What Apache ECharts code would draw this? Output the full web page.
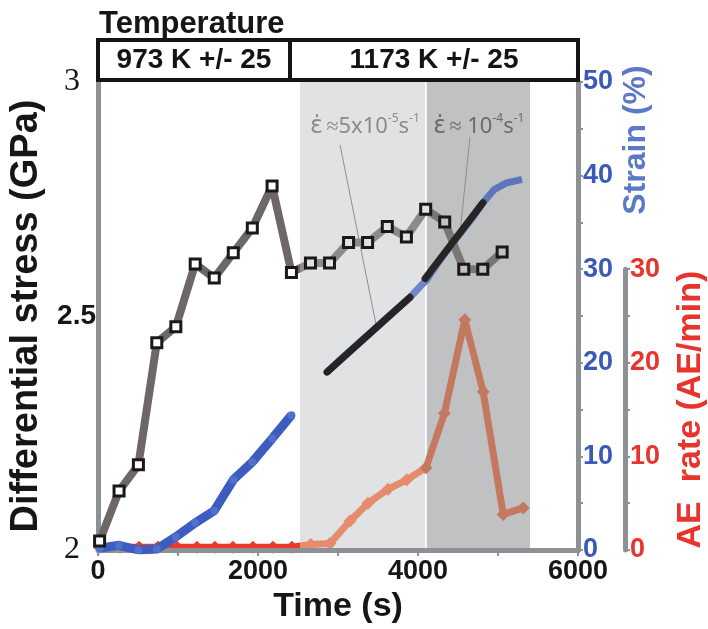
<!DOCTYPE html>
<html><head><meta charset="utf-8">
<script src="https://cdn.jsdelivr.net/npm/echarts@6/dist/echarts.min.js"></script>
<style>html,body{margin:0;padding:0;background:#fff}#c{width:708px;height:629px}</style>
</head><body><div id="c"></div>
<script>
// ---------------- data ----------------
const stressTime = [20,263,505,735,973,1215,1453,1691,1929,2176,2418,2656,2894,3132,3370,3616,3855,4096,4334,4572,4810,5052];
const stressGPa  = [2.019,2.126,2.182,2.443,2.477,2.611,2.581,2.635,2.688,2.778,2.593,2.613,2.613,2.657,2.657,2.691,2.669,2.728,2.701,2.600,2.600,2.637];

const strainTime1 = [25,263,505,735,973,1215,1453,1691,1929,2176,2418];
const strainPct1  = [0.2,0.5,0.0,0.1,1.4,2.9,4.2,7.5,9.4,11.9,14.4];
const strainTime2 = [2862,3100,3400,3700,3900,4100,4300,4500,4700,4812,4950,5100,5300];
const strainPct2  = [19.0,20.9,23.2,25.5,27.0,28.8,31.3,33.5,35.7,37.1,38.5,39.2,39.6];

const fitTime1 = [2862,3900];  const fitPct1 = [19.0,27.0];
const fitTime2 = [4088,4812];  const fitPct2 = [29.0,37.1];

const aeTime = [20,275,513,750,988,1237,1462,1687,1937,2187,2425,2660,2900,3150,3375,3625,3860,4100,4330,4585,4815,5065,5315];
const aeRate = [0.3,0.3,0.3,0.3,0.3,0.3,0.3,0.3,0.3,0.3,0.3,0.6,0.7,3.1,5.0,6.5,7.5,8.8,14.6,24.6,16.9,3.8,4.5];

const tempRanges = [[0,2400],[2400,6000]];
const tempLabels = ['973 K +/- 25','1173 K +/- 25'];

const rateWindows = [[2525,4090],[4110,5400]];
const leaderFrom = [[3025,43.3],[4650,44.1]];
const leaderTo   = [[3480,23.9],[4525,33.9]];
const annoAt     = [[3337,45.2],[4760,45.2]];
const annoText   = ['{e|\u03B5\u0307} {t|\u22485x10}{u|-5}{t|s}{u|-1}', '{e|\u03B5\u0307} {t|\u2248 10}{u|-4}{t|s}{u|-1}'];

const xTicks = [0,2000,4000,6000];

// ---------------- chart ----------------
const AX = '#8d9196';
const FF = 'Liberation Sans';
const windowColors = ['#e1e2e4','#c0c1c3'];
const annoColors = ['#8b8b8b','#6a6a6a'];
const bounds = [2525,4100];
function pieces(cols){return [{lt:bounds[0],color:cols[0]},{gte:bounds[0],lt:bounds[1],color:cols[1]},{gte:bounds[1],color:cols[2]}];}
function pairs(xs,ys){return xs.map((x,i)=>[x,ys[i]]);}

const chart = echarts.init(document.getElementById('c'), null, {renderer:'canvas'});
chart.setOption({
  animation:false,
  backgroundColor:'#fff',
  textStyle:{fontFamily:FF},
  grid:[
    {left:98,right:130,top:82,bottom:79,outerBoundsMode:'none',containLabel:false},
    {left:98,right:130,top:269.2,bottom:79,outerBoundsMode:'none',containLabel:false},
    {left:98,right:130,top:40,height:40,outerBoundsMode:'none',containLabel:false}
  ],
  xAxis:[
    {gridIndex:0,type:'value',min:0,max:6000,interval:1000,z:3,
     axisLine:{onZero:false,lineStyle:{color:AX,width:5}},
     axisTick:{show:true,length:6,lineStyle:{color:AX,width:2}},
     splitLine:{show:false},
     axisLabel:{margin:8,color:'#161616',fontSize:27,fontWeight:'bold',fontFamily:FF,
       formatter:v=>xTicks.indexOf(v)>=0?String(v):''},
     name:'Time (s)',nameLocation:'middle',nameGap:35,
     nameTextStyle:{fontSize:34,fontWeight:'bold',color:'#161616',fontFamily:FF}},
    {gridIndex:1,type:'value',min:0,max:6000,show:false},
    {gridIndex:2,type:'value',min:0,max:6000,show:false}
  ],
  yAxis:[
    {gridIndex:0,type:'value',min:2,max:3,interval:0.5,position:'left',
     axisLine:{show:true,onZero:false,lineStyle:{color:AX,width:5}},
     axisTick:{show:false},minorTick:{show:false},splitLine:{show:false},
     axisLabel:{margin:2,formatter:v=>(v===2.5?'{b|2.5}':'{s|'+v+'}'),
       rich:{s:{fontFamily:'Liberation Serif',fontSize:32,color:'#161616',padding:[0,16,0,0]},
             b:{fontFamily:FF,fontSize:28,fontWeight:'bold',color:'#161616'}}},
     name:'Differential stress (GPa)',nameLocation:'middle',nameRotate:90,nameGap:52,
     nameTextStyle:{fontSize:38,fontWeight:'bold',color:'#161616',fontFamily:FF}},
    {gridIndex:0,type:'value',min:0,max:50,interval:5,position:'right',
     axisLine:{show:true,onZero:false,lineStyle:{color:AX,width:5}},
     axisTick:{show:true,length:5,lineStyle:{color:AX,width:2}},
     splitLine:{show:false},
     axisLabel:{margin:5,color:'#3a59b8',fontSize:27,fontWeight:'bold',fontFamily:FF,
       formatter:v=>(v%10===0?String(v):'')}},
    {gridIndex:1,type:'value',min:0,max:30,interval:5,position:'right',offset:47,
     axisLine:{show:true,onZero:false,lineStyle:{color:AX,width:5}},
     axisTick:{show:true,length:5,lineStyle:{color:AX,width:2}},
     splitLine:{show:false},
     axisLabel:{margin:5,color:'#e8342c',fontSize:27,fontWeight:'bold',fontFamily:FF,
       formatter:v=>(v%10===0?String(v):'')},
     name:'AE  rate (AE/min)',nameLocation:'middle',nameRotate:90,nameGap:49,
     nameTextStyle:{fontSize:34,fontWeight:'bold',color:'#e8342c',fontFamily:FF}},
    {gridIndex:2,type:'value',min:0,max:1,show:false}
  ],
  visualMap:[
    {type:'piecewise',show:false,dimension:0,seriesIndex:1,pieces:pieces(['#ea3a2a','#e68b6d','#c47860'])},
    {type:'piecewise',show:false,dimension:0,seriesIndex:3,pieces:pieces(['#6f86cb','#6f86cb','#5f75bb'])},
    {type:'piecewise',show:false,dimension:0,seriesIndex:6,pieces:pieces(['#6d6767','#8e8a8a','#7a7676'])},
    {type:'piecewise',show:false,dimension:0,seriesIndex:7,pieces:pieces(['#ffffff','#e1e2e4','#c0c1c3'])}
  ],
  graphic:[
    {type:'text',left:99,top:9,style:{text:'Temperature',fontSize:31,fontWeight:'bold',fontFamily:FF,fill:'#161616'}},
    {type:'text',x:636,y:140,rotation:Math.PI/2,style:{text:'Strain (%)',fontSize:32,fontWeight:'bold',fontFamily:FF,fill:'#5b79c7',align:'center',verticalAlign:'middle'}}
  ],
  series:[
    {type:'line',xAxisIndex:0,yAxisIndex:0,data:[],z:1,silent:true,
     markArea:{silent:true,z:1,data:rateWindows.map((r,i)=>[{xAxis:r[0],itemStyle:{color:windowColors[i]}},{xAxis:r[1]}])}},
    {type:'line',xAxisIndex:1,yAxisIndex:2,z:2,data:pairs(aeTime,aeRate),
     symbol:'diamond',symbolSize:13,showSymbol:true,lineStyle:{width:7},silent:true},
    {type:'line',xAxisIndex:0,yAxisIndex:1,z:4,data:pairs(strainTime1,strainPct1),
     symbol:'circle',symbolSize:8,showSymbol:true,lineStyle:{width:9,color:'#3c5cc0'},itemStyle:{color:'#5070cc'},silent:true},
    {type:'line',xAxisIndex:0,yAxisIndex:1,z:4,data:pairs(strainTime2,strainPct2),
     symbol:'none',lineStyle:{width:7},silent:true},
    {type:'line',xAxisIndex:0,yAxisIndex:1,z:6,data:pairs(fitTime1,fitPct1),symbol:'none',
     lineStyle:{width:7,color:'#262424',cap:'round'},silent:true,
     markLine:{silent:true,symbol:['none','none'],lineStyle:{color:'#8f8f8f',width:1,type:'solid'},label:{show:false},
       data:leaderFrom.map((p,i)=>[{coord:p},{coord:leaderTo[i]}])},
     markPoint:{silent:true,symbol:'circle',symbolSize:1,itemStyle:{color:'rgba(0,0,0,0)'},
       data:annoAt.map((p,i)=>({coord:p,label:{show:true,position:'inside',formatter:annoText[i],
         rich:{e:{fontSize:24,fontFamily:'DejaVu Sans',color:annoColors[i],lineHeight:28},
               t:{fontSize:22,fontFamily:'Noto Sans',color:annoColors[i],lineHeight:28},
               u:{fontSize:12,fontFamily:'Noto Sans',color:annoColors[i],lineHeight:14,verticalAlign:'top'}}}}))}},
    {type:'line',xAxisIndex:0,yAxisIndex:1,z:6,data:pairs(fitTime2,fitPct2),symbol:'none',
     lineStyle:{width:7,color:'#262424',cap:'round'},silent:true},
    {type:'line',xAxisIndex:0,yAxisIndex:0,z:5,data:pairs(stressTime,stressGPa),symbol:'none',
     lineStyle:{width:8},silent:true},
    {type:'scatter',xAxisIndex:0,yAxisIndex:0,z:7,data:pairs(stressTime,stressGPa),symbol:'rect',symbolSize:10,
     itemStyle:{borderColor:'#1b1818',borderWidth:3,opacity:1},silent:true},
    {type:'line',xAxisIndex:2,yAxisIndex:3,data:[],silent:true,
     markArea:{silent:true,itemStyle:{color:'#fff',borderColor:'#141414',borderWidth:4},
       label:{show:true,position:'inside',fontSize:28,fontWeight:'bold',color:'#141414',fontFamily:FF},
       data:tempRanges.map((r,i)=>[{xAxis:r[0],name:tempLabels[i]},{xAxis:r[1]}])}}
  ]
});
</script></body></html>
